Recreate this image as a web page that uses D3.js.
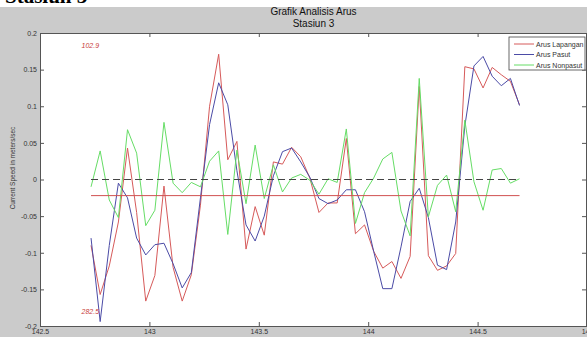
<!DOCTYPE html>
<html>
<head>
<meta charset="utf-8">
<script src="https://cdn.jsdelivr.net/npm/d3@7"></script>
<style>
  body { margin: 0; background: #fff; }
  svg { display: block; font-family: Arial, "Liberation Sans", sans-serif; }
</style>
</head>
<body>
<div id="chart"></div>
<script>
// hourly samples, day-of-year
const startDay = 142.7333;
const stepDay = 1 / 24;

const arusLapangan = [-0.09, -0.157, -0.118, -0.058, 0.043, -0.045, -0.166, -0.131, -0.009, -0.12,
  -0.166, -0.13, -0.035, 0.1, 0.171, 0.027, 0.052, -0.095, -0.037, -0.076,
  0.024, 0.021, 0.044, 0.031, 0.002, -0.045, -0.032, -0.032, 0.056, -0.074,
  -0.062, -0.098, -0.121, -0.112, -0.135, -0.105, 0.127, -0.104, -0.124, -0.118,
  -0.101, 0.154, 0.151, 0.125, 0.153, 0.143, 0.134, 0.102];

const arusPasut = [-0.08, -0.194, -0.09, -0.005, -0.025, -0.08, -0.103, -0.089, -0.087, -0.115,
  -0.148, -0.127, -0.025, 0.075, 0.132, 0.102, 0.012, -0.062, -0.084, -0.05,
  0.005, 0.038, 0.043, 0.024, 0.003, -0.026, -0.033, -0.028, -0.014, -0.014,
  -0.044, -0.098, -0.149, -0.149, -0.092, -0.03, -0.012, -0.052, -0.117, -0.123,
  -0.058, 0.073, 0.155, 0.168, 0.141, 0.128, 0.138, 0.101];

const arusNonpasut = [-0.01, 0.039, -0.028, -0.052, 0.068, 0.036, -0.063, -0.042, 0.078, -0.005,
  -0.018, -0.004, -0.01, 0.025, 0.039, -0.075, 0.04, -0.033, 0.047, -0.026,
  0.02, -0.017, 0.002, 0.007, -0.001, -0.02, 0.001, -0.004, 0.069, -0.06,
  -0.018, 0.002, 0.028, 0.037, -0.043, -0.077, 0.138, -0.051, -0.008, 0.006,
  -0.044, 0.081, -0.003, -0.042, 0.013, 0.015, -0.005, 0.001];

const meanLapangan = -0.022;
const xTicks = [142.5, 143, 143.5, 144, 144.5, 145];
const yTicks = [-0.2, -0.15, -0.1, -0.05, 0, 0.05, 0.1, 0.15, 0.2];
const seriesNames = ['Arus Lapangan', 'Arus Pasut', 'Arus Nonpasut'];
const seriesColors = ['#d65a5a', '#4b4ba6', '#66dd66'];
const notes = [{ x: 142.69, y: 0.18, text: '102.9' }, { x: 142.69, y: -0.183, text: '282.5' }];

const W = 587, H = 337;
const plot = { left: 40, right: 587, top: 33, bottom: 326 };

const times = arusLapangan.map((_, i) => startDay + i * stepDay);

const svg = d3.select('#chart').append('svg')
  .attr('width', W)
  .attr('height', H);

// figure background
svg.append('rect').attr('width', W).attr('height', H).attr('fill', '#fff');

// bold heading from the page, cut at the top
svg.append('text')
  .attr('x', 5).attr('y', 3)
  .attr('font-family', '"Liberation Serif", "Times New Roman", serif')
  .attr('font-weight', 'bold')
  .attr('font-size', 21)
  .attr('fill', '#000')
  .text('Stasiun 3');

svg.append('rect').attr('y', 7).attr('width', W).attr('height', H - 7).attr('fill', '#cbcbcb');

const x = d3.scaleLinear().domain([142.5, 145]).range([plot.left, plot.right]);
const y = d3.scaleLinear().domain([-0.2, 0.2]).range([plot.bottom, plot.top]);

svg.append('rect')
  .attr('x', plot.left).attr('y', plot.top)
  .attr('width', plot.right - plot.left).attr('height', plot.bottom - plot.top)
  .attr('fill', '#fff');

const fmt = d => String(+d.toFixed(2));

// axes (MATLAB-style inward ticks)
const axisStyle = g => {
  g.select('.domain').attr('stroke', '#555');
  g.selectAll('.tick line').attr('stroke', '#555');
  g.selectAll('.tick text').attr('fill', '#333').attr('font-size', 7);
};

svg.append('g')
  .attr('transform', `translate(0,${plot.bottom})`)
  .call(d3.axisBottom(x).tickValues(xTicks).tickFormat(fmt).tickSizeInner(-4).tickSizeOuter(0).tickPadding(3))
  .call(axisStyle);
svg.append('g')
  .attr('transform', `translate(0,${plot.top})`)
  .call(d3.axisTop(x).tickValues(xTicks).tickFormat('').tickSizeInner(-4).tickSizeOuter(0))
  .call(axisStyle);
svg.append('g')
  .attr('transform', `translate(${plot.left},0)`)
  .call(d3.axisLeft(y).tickValues(yTicks).tickFormat(fmt).tickSizeInner(-4).tickSizeOuter(0).tickPadding(3))
  .call(axisStyle);
svg.append('g')
  .attr('transform', `translate(${plot.right - 1},0)`)
  .call(d3.axisRight(y).tickValues(yTicks).tickFormat('').tickSizeInner(-4).tickSizeOuter(0))
  .call(axisStyle);

// series lines
const line = d3.line().x((d, i) => x(times[i])).y(d => y(d));
[arusLapangan, arusPasut, arusNonpasut].forEach((s, k) => {
  svg.append('path')
    .datum(s)
    .attr('fill', 'none')
    .attr('stroke', seriesColors[k])
    .attr('stroke-width', 1)
    .attr('d', line);
});

// zero reference (dashed) and mean line
const t0 = times[0], t1 = times[times.length - 1];
svg.append('line')
  .attr('x1', x(t0)).attr('x2', x(t1))
  .attr('y1', y(0)).attr('y2', y(0))
  .attr('stroke', '#444').attr('stroke-dasharray', '7,4');
svg.append('line')
  .attr('x1', x(t0)).attr('x2', x(t1))
  .attr('y1', y(meanLapangan)).attr('y2', y(meanLapangan))
  .attr('stroke', '#d05050');

// annotation numbers
svg.selectAll('.note')
  .data(notes)
  .enter().append('text')
  .attr('x', d => x(d.x)).attr('y', d => y(d.y))
  .attr('font-size', 7)
  .attr('fill', '#c83c3c')
  .attr('font-style', 'italic')
  .text(d => d.text);

// titles
svg.append('text')
  .attr('x', (plot.left + plot.right) / 2).attr('y', 15)
  .attr('text-anchor', 'middle').attr('font-size', 10).attr('fill', '#111')
  .text('Grafik Analisis Arus');
svg.append('text')
  .attr('x', (plot.left + plot.right) / 2).attr('y', 27)
  .attr('text-anchor', 'middle').attr('font-size', 10).attr('fill', '#111')
  .text('Stasiun 3');

svg.append('text')
  .attr('transform', `translate(15,168) rotate(-90)`)
  .attr('text-anchor', 'middle').attr('font-size', 6.5).attr('fill', '#333')
  .text('Current Speed in meters/sec');

// legend
const legend = svg.append('g').attr('transform', 'translate(509,37)');
legend.append('rect')
  .attr('width', 76).attr('height', 33)
  .attr('fill', '#fff').attr('stroke', '#444').attr('stroke-width', 0.8);
seriesNames.forEach((name, k) => {
  const ly = 7 + k * 10.5;
  legend.append('line')
    .attr('x1', 5).attr('x2', 25).attr('y1', ly).attr('y2', ly)
    .attr('stroke', seriesColors[k]);
  legend.append('text')
    .attr('x', 27).attr('y', ly + 2.5)
    .attr('font-size', 7).attr('fill', '#333')
    .text(name);
});
</script>
</body>
</html>
